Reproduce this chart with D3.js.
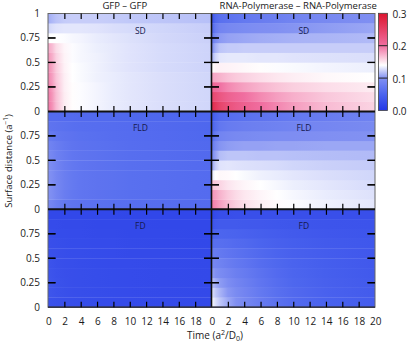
<!DOCTYPE html>
<html><head><meta charset="utf-8">
<script src="https://cdn.jsdelivr.net/npm/d3@7"></script>
<style>
html,body{margin:0;padding:0;background:#fff;}
svg{display:block;}
text{font-family:"Open Sans",sans-serif;fill:#1a1a1a;}
</style>
</head><body>
<svg id="c" width="408" height="343"></svg>
<script>
// ---------------- data ----------------
const times = [0, 0.5, 1, 2, 3, 4, 6, 8, 10, 14, 20];          // time stops (a^2/D0)
const rowStarts = [0, 0.1, 0.2, 0.3, 0.4, 0.5, 0.6, 0.7, 0.8, 0.9]; // surface distance bins
const rowSize = 0.1;
const xTickValues = [0, 2, 4, 6, 8, 10, 12, 14, 16, 18, 20];
const yTickValues = [0, 0.25, 0.5, 0.75, 1];
const colorDomain = [0, 0.05, 0.1, 0.14, 0.2, 0.3];
const colorRange = ["rgb(35,55,230)", "rgb(75,100,238)", "rgb(130,145,242)", "rgb(255,255,255)", "rgb(240,110,160)", "rgb(220,20,45)"];
const colorbarTicks = [0, 0.1, 0.2, 0.3];
const columnTitles = ["GFP \u2013 GFP", "RNA-Polymerase \u2013 RNA-Polymerase"];
const rowLabels = ["SD", "FLD", "FD"];

// rows listed from bottom (0-0.1) to top (0.9-1), values at the time stops
const sdGfp = [
 [.198,.186,.168,.148,.141,.139,.136,.133,.131,.128,.125],
 [.196,.184,.167,.148,.141,.139,.136,.133,.131,.128,.125],
 [.194,.182,.166,.147,.141,.139,.136,.133,.131,.128,.125],
 [.191,.180,.164,.147,.140,.138,.135,.133,.131,.128,.125],
 [.188,.177,.162,.146,.140,.138,.135,.132,.130,.127,.124],
 [.184,.174,.159,.145,.139,.137,.135,.132,.130,.127,.124],
 [.176,.168,.155,.144,.139,.137,.134,.132,.130,.127,.124],
 [.140,.140,.140,.139,.137,.136,.133,.131,.129,.126,.123],
 [.125,.128,.130,.131,.131,.131,.130,.128,.127,.125,.122],
 [.110,.114,.118,.121,.122,.122,.122,.121,.120,.119,.117]
];
const sdRna = [
 [.275,.260,.247,.232,.222,.214,.201,.190,.181,.168,.158],
 [.245,.236,.227,.215,.207,.200,.189,.180,.173,.163,.154],
 [.210,.205,.199,.190,.184,.179,.171,.165,.160,.154,.148],
 [.178,.175,.172,.166,.162,.159,.154,.150,.147,.143,.140],
 [.140,.145,.146,.145,.144,.143,.141,.139,.138,.136,.134],
 [.110,.125,.131,.132,.132,.132,.131,.131,.130,.129,.128],
 [.090,.111,.119,.121,.121,.122,.122,.122,.122,.122,.122],
 [.070,.094,.103,.106,.107,.108,.110,.111,.112,.113,.115],
 [.050,.076,.086,.090,.092,.094,.097,.099,.101,.104,.108],
 [.030,.055,.063,.067,.070,.073,.077,.081,.085,.091,.098]
];
const fldGfp = [
 [.090,.086,.080,.072,.068,.066,.064,.062,.061,.060,.058],
 [.100,.095,.088,.078,.072,.069,.066,.064,.062,.060,.058],
 [.102,.097,.090,.080,.074,.070,.067,.065,.063,.061,.058],
 [.100,.095,.088,.079,.073,.070,.067,.065,.063,.061,.058],
 [.097,.092,.086,.077,.072,.069,.066,.064,.062,.060,.057],
 [.092,.088,.082,.075,.070,.068,.065,.063,.061,.059,.056],
 [.085,.082,.078,.072,.068,.066,.064,.062,.060,.058,.055],
 [.076,.074,.071,.068,.066,.064,.062,.060,.059,.057,.054],
 [.068,.067,.066,.064,.062,.061,.060,.059,.058,.056,.053],
 [.058,.058,.058,.057,.057,.056,.055,.055,.054,.053,.052]
];
const fldRna = [
 [.195,.188,.180,.168,.160,.154,.147,.142,.139,.135,.131],
 [.185,.179,.172,.162,.155,.150,.144,.140,.137,.133,.129],
 [.165,.162,.158,.151,.147,.144,.140,.137,.134,.131,.127],
 [.130,.140,.143,.142,.140,.138,.135,.133,.131,.128,.125],
 [.105,.122,.130,.131,.130,.129,.128,.127,.125,.123,.121],
 [.085,.106,.116,.119,.119,.119,.118,.118,.117,.116,.115],
 [.070,.091,.101,.104,.105,.106,.106,.107,.107,.108,.108],
 [.055,.075,.085,.089,.091,.092,.094,.095,.096,.098,.100],
 [.045,.062,.071,.075,.077,.079,.081,.083,.085,.088,.092],
 [.035,.050,.057,.060,.062,.064,.067,.070,.073,.077,.083]
];
const fdGfp = [
 [.030,.029,.028,.026,.025,.024,.023,.022,.022,.021,.020],
 [.034,.032,.030,.028,.026,.025,.024,.023,.022,.021,.020],
 [.034,.032,.030,.028,.026,.025,.024,.023,.022,.021,.020],
 [.033,.031,.029,.027,.026,.025,.024,.023,.022,.021,.020],
 [.031,.030,.028,.026,.025,.024,.023,.022,.022,.021,.020],
 [.029,.028,.027,.025,.024,.024,.023,.022,.021,.021,.020],
 [.027,.026,.025,.024,.023,.023,.022,.022,.021,.020,.019],
 [.024,.024,.023,.023,.022,.022,.021,.021,.020,.020,.019],
 [.022,.022,.022,.021,.021,.021,.020,.020,.020,.019,.019],
 [.019,.019,.019,.019,.019,.019,.019,.019,.018,.018,.018]
];
const fdRna = [
 [.138,.128,.120,.108,.098,.090,.076,.065,.057,.048,.041],
 [.130,.120,.113,.102,.093,.086,.073,.063,.056,.047,.040],
 [.118,.110,.104,.095,.087,.081,.069,.060,.053,.046,.039],
 [.105,.099,.094,.087,.080,.075,.065,.057,.051,.044,.038],
 [.090,.087,.084,.078,.073,.069,.060,.054,.049,.043,.037],
 [.075,.075,.073,.069,.065,.062,.055,.050,.046,.041,.036],
 [.060,.062,.062,.060,.057,.055,.050,.046,.043,.039,.035],
 [.045,.050,.051,.050,.049,.047,.044,.041,.039,.036,.033],
 [.030,.037,.039,.039,.039,.038,.037,.035,.034,.032,.031],
 [.015,.022,.025,.026,.027,.027,.027,.027,.027,.027,.027]
];
const panelData = [[sdGfp, sdRna], [fldGfp, fldRna], [fdGfp, fdRna]];

// ---------------- layout ----------------
const svg = d3.select("#c");
const defs = svg.append("defs");
const colX = [[48, 211.5], [211.5, 375]];
const top0 = 13.5, rowH = 97.9;
const color = d3.scaleLinear().domain(colorDomain).range(colorRange).interpolate(d3.interpolateRgb).clamp(true);

const gHeat = svg.append("g");
const gFrame = svg.append("g");
const gText = svg.append("g");
const panels = [];

panelData.forEach((rowPanels, r) => {
  const yTop = top0 + r * rowH, yBot = yTop + rowH;
  const y = d3.scaleLinear().domain([0, 1]).range([yBot, yTop]);
  rowPanels.forEach((data, c) => {
    const x = d3.scaleLinear().domain([0, 20]).range(colX[c]);
    panels.push({ x, y, yTop, yBot });
    data.forEach((vals, i) => {
      const id = `hg${r}${c}${i}`;
      const grad = defs.append("linearGradient").attr("id", id)
        .attr("gradientUnits", "userSpaceOnUse")
        .attr("x1", x(0)).attr("x2", x(20)).attr("y1", 0).attr("y2", 0);
      grad.selectAll("stop").data(times).join("stop")
        .attr("offset", t => (x(t) - x(0)) / (x(20) - x(0)))
        .attr("stop-color", (t, j) => color(vals[j]));
      const s = rowStarts[i];
      gHeat.append("rect")
        .attr("x", x(0)).attr("width", x(20) - x(0))
        .attr("y", y(s + rowSize)).attr("height", y(s) - y(s + rowSize) + 0.3)
        .attr("fill", `url(#${id})`);
    });
    gText.append("text").attr("x", x(11.3)).attr("y", yTop + 20)
      .attr("text-anchor", "middle").attr("font-size", 8.5).style("fill", "#16194d")
      .text(rowLabels[r]);
  });
  const labs = r === 0 ? yTickValues : yTickValues.filter(v => v < 1);
  labs.forEach(v => {
    gText.append("text").attr("x", 40).attr("y", y(v)).attr("dy", "0.35em")
      .attr("text-anchor", "end").attr("font-size", 10).text(String(v));
  });
});

// frame and dividers
const fullTop = top0, fullBot = top0 + 3 * rowH;
gFrame.append("rect").attr("x", 48).attr("y", fullTop).attr("width", 375 - 48).attr("height", fullBot - fullTop)
  .attr("fill", "none").attr("stroke", "#666").attr("stroke-width", 1);
[1, 2].forEach(k => {
  gFrame.append("line").attr("x1", 48).attr("x2", 375).attr("y1", top0 + k * rowH).attr("y2", top0 + k * rowH)
    .attr("stroke", "#111").attr("stroke-width", 2);
});
gFrame.append("line").attr("x1", 211.5).attr("x2", 211.5).attr("y1", fullTop).attr("y2", fullBot)
  .attr("stroke", "#111").attr("stroke-width", 1.6);
gFrame.append("line").attr("x1", 48).attr("x2", 375).attr("y1", fullBot).attr("y2", fullBot)
  .attr("stroke", "#223").attr("stroke-width", 1.3);

// x tick labels and column titles
colX.forEach((rng, c) => {
  const x = d3.scaleLinear().domain([0, 20]).range(rng);
  const vals = c === 0 ? xTickValues.filter(v => v < 20) : xTickValues;
  vals.forEach(v => {
    gText.append("text").attr("x", x(v) + 0.8).attr("y", 321.5).attr("dy", "0.35em")
      .attr("text-anchor", "middle").attr("font-size", 10).text(v);
  });
  gText.append("text").attr("x", (rng[0] + rng[1]) / 2 + (c === 0 ? -5 : 5)).attr("y", 9)
    .attr("text-anchor", "middle").attr("font-size", 9.5).text(columnTitles[c]);
});

// axis titles
const xt = gText.append("text").attr("x", 215).attr("y", 339).attr("text-anchor", "middle").attr("font-size", 10);
xt.append("tspan").text("Time (a");
xt.append("tspan").attr("dy", -4).attr("font-size", 7).text("2");
xt.append("tspan").attr("dy", 4).text("/D");
xt.append("tspan").attr("dy", 2).attr("font-size", 7).text("0");
xt.append("tspan").attr("dy", -2).text(")");

const yt = gText.append("text").attr("transform", "translate(11.5,161) rotate(-90)")
  .attr("text-anchor", "middle").attr("font-size", 9.5);
yt.append("tspan").text("Surface distance (a");
yt.append("tspan").attr("dy", -3.5).attr("font-size", 6.5).text("\u22121");
yt.append("tspan").attr("dy", 3.5).text(")");

// colorbar
const cbY = d3.scaleLinear().domain([0, 0.3]).range([110.5, 13.3]);
const cbX0 = 378.5, cbW = 9;
const cg = defs.append("linearGradient").attr("id", "cbar").attr("gradientUnits", "userSpaceOnUse")
  .attr("x1", 0).attr("x2", 0).attr("y1", cbY(0)).attr("y2", cbY(0.3));
cg.selectAll("stop").data(colorDomain).join("stop")
  .attr("offset", d => d / 0.3).attr("stop-color", d => color(d));
svg.append("rect").attr("x", cbX0).attr("y", cbY(0.3)).attr("width", cbW).attr("height", cbY(0) - cbY(0.3))
  .attr("fill", "url(#cbar)").attr("stroke", "#444").attr("stroke-width", 0.8);
colorbarTicks.filter(v => v > 0 && v < 0.3).forEach(v => {
  svg.append("line").attr("x1", cbX0).attr("x2", cbX0 + cbW).attr("y1", cbY(v)).attr("y2", cbY(v))
    .attr("stroke", "#222").attr("stroke-width", 1);
});
colorbarTicks.forEach(v => {
  svg.append("text").attr("x", 392.5).attr("y", cbY(v) + 1).attr("dy", "0.35em")
    .attr("font-size", 10).style("fill", "#1a1a1a").text(d3.format(".1f")(v));
});

// inward x ticks via d3 axes, drawn last
const gTicks = svg.append("g");
function inwardAxis(axis, tx, ty) {
  const g = gTicks.append("g").attr("transform", `translate(${tx},${ty})`).call(axis);
  g.select(".domain").remove();
  g.selectAll(".tick text").remove();
  g.selectAll(".tick line").attr("stroke", "#000").attr("stroke-width", 1.2);
}
const xin = xTickValues.filter(v => v > 0 && v < 20);
const yin = yTickValues.filter(v => v > 0 && v < 1);
panels.forEach(p => {
  inwardAxis(d3.axisBottom(p.x).tickValues(xin).tickSizeInner(5.5).tickSizeOuter(0).tickFormat(""), 0, p.yTop);
  inwardAxis(d3.axisTop(p.x).tickValues(xin).tickSizeInner(5.5).tickSizeOuter(0).tickFormat(""), 0, p.yBot);
});
// inward y ticks, drawn as small rects and lines directly on the svg
panels.forEach(p => {
  yin.forEach(v => {
    const yy = p.y(v);
    svg.append("rect").attr("x", p.x(0)).attr("y", yy - 0.6).attr("width", 7.5).attr("height", 1.2).attr("fill", "#000");
    svg.append("rect").attr("x", p.x(20) - 7.5).attr("y", yy - 0.6).attr("width", 7.5).attr("height", 1.2).attr("fill", "#000");
    svg.append("line").attr("x1", p.x(0)).attr("x2", p.x(0) + 7.5).attr("y1", yy).attr("y2", yy)
      .attr("stroke", "#000").attr("stroke-width", 1.2);
    svg.append("line").attr("x1", p.x(20)).attr("x2", p.x(20) - 7.5).attr("y1", yy).attr("y2", yy)
      .attr("stroke", "#000").attr("stroke-width", 1.2);
  });
});
</script>
</body></html>
